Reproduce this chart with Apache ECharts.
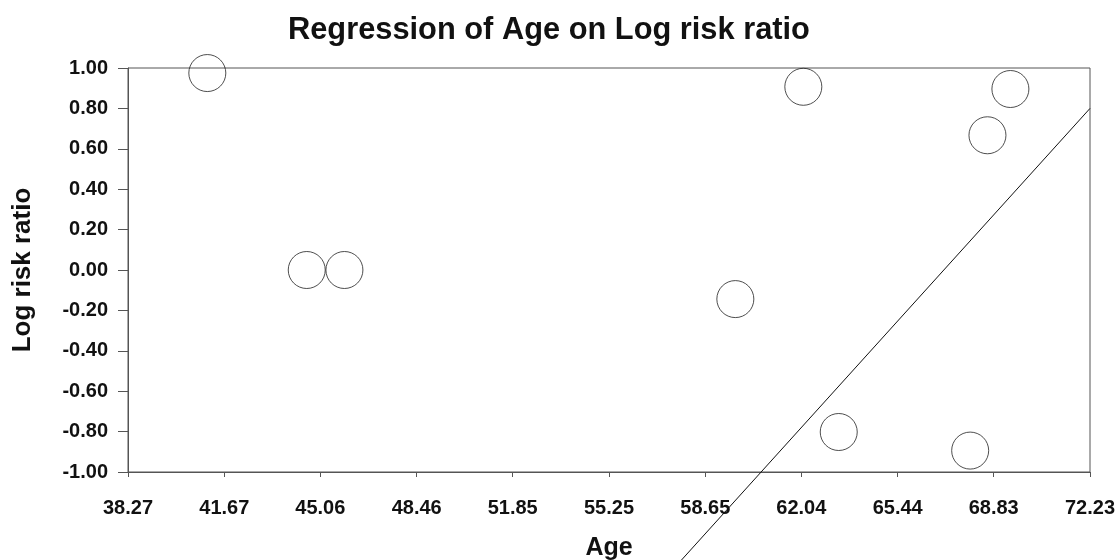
<!DOCTYPE html>
<html>
<head>
<meta charset="utf-8">
<script src="https://cdn.jsdelivr.net/npm/echarts@6/dist/echarts.min.js"></script>
<style>
html,body{margin:0;padding:0;background:#fff;}
#chart{width:1119px;height:560px;}
</style>
</head>
<body>
<div id="chart"></div>
<script>
// Data
var ages = [41.07, 44.58, 45.91, 59.71, 62.11, 63.36, 68.00, 68.61, 69.42];
var logRR = [0.975, 0.00, 0.00, -0.144, 0.907, -0.802, -0.894, 0.667, 0.896];
var xTicks = [38.27, 41.67, 45.06, 48.46, 51.85, 55.25, 58.65, 62.04, 65.44, 68.83, 72.23];
var regX = [38.27, 72.23];
var regY = [-4.465, 0.80];

var FONT = 'Liberation Sans, Arial, sans-serif';
var points = ages.map(function (a, i) { return [a, logRR[i]]; });
var regLine = regX.map(function (x, i) { return [x, regY[i]]; });

var chart = echarts.init(document.getElementById('chart'));
chart.setOption({
  backgroundColor: '#ffffff',
  animation: false,
  title: {
    text: 'Regression of Age on Log risk ratio',
    left: 288,
    top: 15,
    padding: 0,
    textStyle: { fontFamily: FONT, fontSize: 30.8, fontWeight: 'bold', color: '#111' }
  },
  grid: {
    left: 128, right: 29, top: 68, bottom: 88,
    containLabel: false,
    outerBoundsMode: 'none',
    show: true, borderColor: '#555', borderWidth: 1, backgroundColor: 'transparent'
  },
  xAxis: {
    type: 'value',
    min: 38.27, max: 72.23,
    name: 'Age',
    nameLocation: 'middle',
    nameGap: 64,
    nameTextStyle: { fontFamily: FONT, fontSize: 25, fontWeight: 'bold', color: '#111' },
    axisLine: { show: true, onZero: false, lineStyle: { color: '#555', width: 1 } },
    axisTick: { show: true, length: 5, customValues: xTicks, lineStyle: { color: '#555' } },
    axisLabel: {
      customValues: xTicks,
      margin: 26,
      fontFamily: FONT, fontSize: 20, fontWeight: 'bold', color: '#111',
      formatter: function (v) { return v.toFixed(2); }
    },
    splitLine: { show: false }
  },
  yAxis: {
    type: 'value',
    min: -1, max: 1, interval: 0.2,
    name: 'Log risk ratio',
    nameLocation: 'middle',
    nameGap: 92,
    nameRotate: 90,
    nameTextStyle: { fontFamily: FONT, fontSize: 26, fontWeight: 'bold', color: '#111' },
    axisLine: { show: true, onZero: false, lineStyle: { color: '#555', width: 1 } },
    axisTick: { show: true, length: 10, lineStyle: { color: '#555' } },
    axisLabel: {
      margin: 20,
      fontFamily: FONT, fontSize: 20, fontWeight: 'bold', color: '#111',
      formatter: function (v) { return (Math.abs(v) < 1e-9 ? 0 : v).toFixed(2); }
    },
    splitLine: { show: false }
  },
  series: [
    {
      type: 'line',
      data: regLine,
      clip: false,
      symbol: 'none',
      lineStyle: { color: '#111', width: 1 },
      z: 3
    },
    {
      type: 'scatter',
      data: points,
      clip: false,
      symbol: 'circle',
      symbolSize: 37,
      itemStyle: { color: 'rgba(255,255,255,0)', borderColor: '#222', borderWidth: 1 },
      z: 4
    }
  ]
});
</script>
</body>
</html>
